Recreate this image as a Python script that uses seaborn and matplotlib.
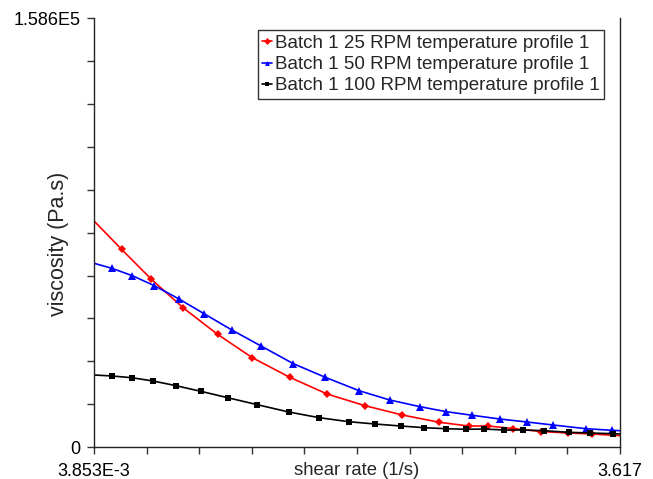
import numpy as np
import pandas as pd
import matplotlib
matplotlib.use("Agg")
import matplotlib.pyplot as plt
import seaborn as sns
from matplotlib.ticker import FixedLocator, FixedFormatter, NullLocator

# ---- data ----
x_25 = [0.003853, 0.005510, 0.008089, 0.012316, 0.019215, 0.03022, 0.04919, 0.07991,
        0.13102, 0.21284, 0.34447, 0.50500, 0.64936, 0.89874, 1.2937, 1.8458, 2.5124, 3.617]
y_25 = [83620, 73149, 62160, 51430, 41699, 33041, 25789, 19610,
        15281, 11840, 9139, 7770, 7770, 6845, 5735, 5180, 4810, 4181]

x_50 = [0.003853, 0.004851, 0.006341, 0.008446, 0.011646, 0.016120, 0.023304, 0.03385,
        0.05155, 0.07811, 0.12121, 0.18067, 0.26808, 0.37747, 0.52930, 0.75594, 1.0784,
        1.5122, 2.3236, 3.2473, 3.617]
y_50 = [67969, 66119, 63381, 59681, 54760, 49321, 43179, 37370,
        30821, 25789, 20831, 17390, 14911, 13061, 11729, 10360, 9250,
        8140, 6771, 6179, 6031]

x_100 = [0.003853, 0.004869, 0.006293, 0.008303, 0.011198, 0.015445, 0.021955, 0.03226,
         0.04855, 0.07228, 0.10597, 0.14918, 0.20847, 0.28346, 0.37453, 0.48583, 0.61404,
         0.79621, 1.0278, 1.3455, 1.8629, 2.4478, 3.3023, 3.617]
y_100 = [26640, 26270, 25641, 24420, 22681, 20609, 18241, 15651,
         12950, 10841, 9361, 8510, 7770, 7141, 6771, 6549, 6660,
         6290, 6290, 6031, 5439, 5180, 4921, 4810]

labels = ["Batch 1 25 RPM temperature profile 1",
          "Batch 1 50 RPM temperature profile 1",
          "Batch 1 100 RPM temperature profile 1"]
x_min, x_max = 3.853e-3, 3.617
y_min, y_max = 0, 1.586e5
x_tick_labels = ["3.853E-3", "3.617"]
y_tick_labels = ["0", "1.586E5"]

# ---- style ----
sns.set_style("ticks")
plt.rcParams["font.family"] = ["Liberation Sans", "DejaVu Sans"]

fig = plt.figure(figsize=(6.53, 4.79), dpi=100)
ax = fig.add_axes([0.144, 0.0668, 0.8055, 0.895])

series = [
    (x_25, y_25, labels[0], "#ff0000", "D", 3.6),
    (x_50, y_50, labels[1], "#0000ff", "^", 5.5),
    (x_100, y_100, labels[2], "#000000", "s", 4.3),
]
for xs, ys, lab, col, mk, ms in series:
    df = pd.DataFrame({"x": xs, "y": ys})
    sns.lineplot(data=df, x="x", y="y", ax=ax, color=col, marker=mk,
                 markersize=ms, markeredgewidth=0, markevery=slice(1, len(xs) - 1),
                 linewidth=1.2, sort=False, estimator=None, label=lab)

ax.set_xscale("log")
ax.set_xlim(x_min, x_max)
ax.set_ylim(y_min, y_max)

xt = np.geomspace(x_min, x_max, 11)
ax.xaxis.set_major_locator(FixedLocator(xt))
ax.xaxis.set_major_formatter(FixedFormatter([x_tick_labels[0]] + [""] * 9 + [x_tick_labels[1]]))
ax.xaxis.set_minor_locator(NullLocator())
yt = np.linspace(y_min, y_max, 11)
ax.yaxis.set_major_locator(FixedLocator(yt))
ax.yaxis.set_major_formatter(FixedFormatter([y_tick_labels[0]] + [""] * 9 + [y_tick_labels[1]]))

ax.tick_params(axis="both", direction="out", length=5, width=1, color="#333333",
               labelsize=13, labelcolor="black")
ax.tick_params(axis="x", pad=6.5)
ax.tick_params(axis="y", pad=5)

for s in ["left", "bottom", "right"]:
    ax.spines[s].set_visible(True)
    ax.spines[s].set_color("#222222")
    ax.spines[s].set_linewidth(1.0)
ax.spines["top"].set_visible(False)

ax.set_xlabel("shear rate (1/s)", fontsize=13.3)
ax.xaxis.set_label_coords(0.5, -0.036)
ax.set_ylabel("viscosity (Pa.s)", fontsize=15.5)
ax.yaxis.set_label_coords(-0.047, 0.4735)

leg = ax.legend(loc="upper right", bbox_to_anchor=(0.9696, 0.9727), borderaxespad=0,
                frameon=True, fancybox=False, edgecolor="#333333", fontsize=13.5,
                handlelength=0.5, handletextpad=0.15, labelspacing=0.22,
                borderpad=0.25, framealpha=1)
leg.get_frame().set_linewidth(1.0)
for h in leg.legend_handles:
    h.set_markersize(3.5)

fig.savefig("out.png", dpi=100)
